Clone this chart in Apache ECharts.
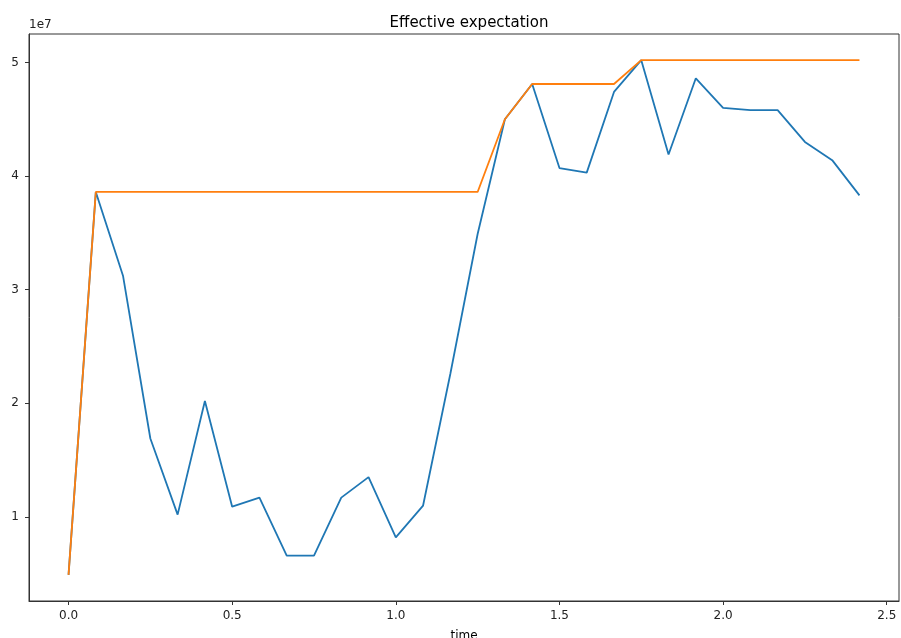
<!DOCTYPE html>
<html>
<head>
<meta charset="utf-8">
<script src="https://cdn.jsdelivr.net/npm/echarts@6/dist/echarts.min.js"></script>
<style>
html,body{margin:0;padding:0;background:#fff;overflow:hidden;}
#chart{width:901px;height:638px;}
</style>
</head>
<body>
<div id="chart"></div>
<script>
// time values (years), k/12
const times = [0, 1/12, 2/12, 3/12, 4/12, 5/12, 6/12, 7/12, 8/12, 9/12, 10/12, 11/12, 12/12, 13/12, 14/12, 15/12, 16/12, 17/12, 18/12, 19/12, 20/12, 21/12, 22/12, 23/12, 24/12, 25/12, 26/12, 27/12, 28/12, 29/12];
// blue series (units of 1e7)
const blueValues = [0.49, 3.86, 3.12, 1.69, 1.02, 2.02, 1.09, 1.17, 0.66, 0.66, 1.17, 1.35, 0.82, 1.10, 2.26, 3.49, 4.50, 4.81, 4.07, 4.03, 4.74, 5.02, 4.19, 4.86, 4.60, 4.58, 4.58, 4.30, 4.14, 3.83];
// orange series (units of 1e7)
const orangeValues = [0.49, 3.86, 3.86, 3.86, 3.86, 3.86, 3.86, 3.86, 3.86, 3.86, 3.86, 3.86, 3.86, 3.86, 3.86, 3.86, 4.50, 4.81, 4.81, 4.81, 4.81, 5.02, 5.02, 5.02, 5.02, 5.02, 5.02, 5.02, 5.02, 5.02];
const xTicks = [0, 0.5, 1.0, 1.5, 2.0, 2.5];
const yTicks = [1, 2, 3, 4, 5];
const scale = 1e7;

const chart = echarts.init(document.getElementById('chart'), null, {renderer: 'canvas', width: 901, height: 638});
const font = 'DejaVu Sans';
const toPairs = vals => times.map((t, i) => [t, vals[i] * scale]);

chart.setOption({
  animation: false,
  backgroundColor: '#ffffff',
  textStyle: {fontFamily: font},
  title: {
    text: 'Effective expectation',
    left: 464, top: 11, textAlign: 'center',
    textStyle: {fontFamily: font, fontSize: 15, fontWeight: 'normal', color: '#000'}
  },
  grid: {left: 29, right: 2, top: 34, bottom: 37, containLabel: false, outerBoundsMode: 'none',
    show: true, borderColor: '#333', borderWidth: 1},
  xAxis: {
    type: 'value',
    min: -0.1208, max: 2.5375,
    name: 'time', nameLocation: 'middle', nameGap: 29,
    nameTextStyle: {fontFamily: font, fontSize: 12, color: '#000'},
    axisLine: {show: true, onZero: false, lineStyle: {color: '#333', width: 1}},
    axisTick: {show: true, length: 4, customValues: xTicks, lineStyle: {color: '#333'}},
    axisLabel: {customValues: xTicks, margin: 9, fontSize: 12, color: '#222', fontFamily: font,
      formatter: v => v.toFixed(1)},
    splitLine: {show: false}
  },
  yAxis: {
    type: 'value',
    min: 0.26 * scale, max: 5.25 * scale,
    name: '1e7', nameLocation: 'end', nameGap: 9,
    nameTextStyle: {fontFamily: font, fontSize: 12, color: '#222', align: 'left', verticalAlign: 'middle'},
    axisLine: {show: true, onZero: false, lineStyle: {color: '#333', width: 1}},
    axisTick: {show: true, length: 4, customValues: yTicks.map(v => v * scale), lineStyle: {color: '#333'}},
    axisLabel: {customValues: yTicks.map(v => v * scale), margin: 10, fontSize: 12, color: '#222', fontFamily: font,
      formatter: v => String(Math.round(v / scale))},
    splitLine: {show: false}
  },
  series: [
    {type: 'line', data: toPairs(blueValues), showSymbol: false, symbol: 'none',
      lineStyle: {color: '#1f77b4', width: 1.8}, z: 2},
    {type: 'line', data: toPairs(orangeValues), showSymbol: false, symbol: 'none',
      lineStyle: {color: '#ff7f0e', width: 1.8}, z: 3}
  ]
});
</script>
</body>
</html>
